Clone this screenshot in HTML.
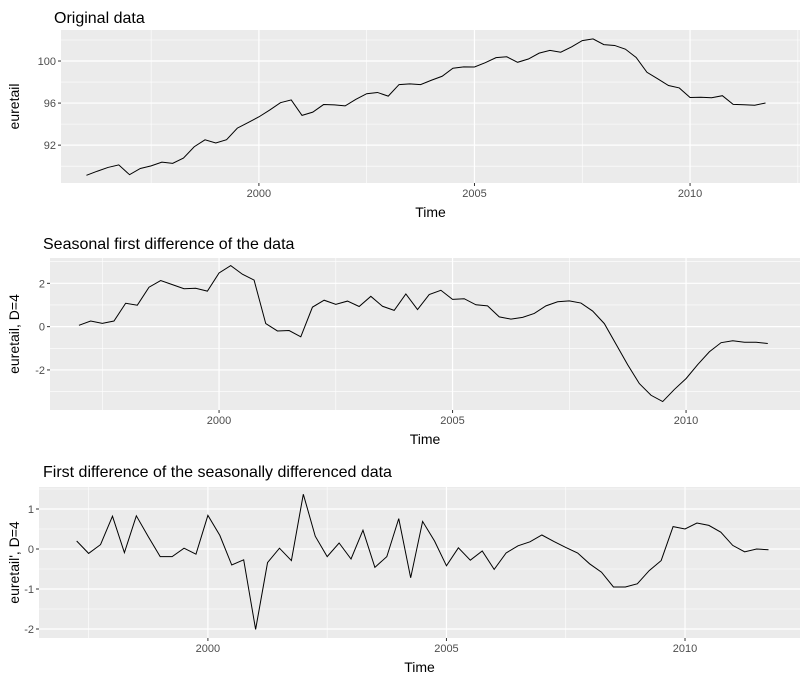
<!DOCTYPE html>
<html><head><meta charset="utf-8"><style>
html,body{margin:0;padding:0;background:#fff;}
svg{display:block;font-family:"Liberation Sans",Arial,sans-serif;}
</style></head><body>
<svg id="chart" width="809" height="683"></svg>
<script>
const years1 = [1996,2011.75];
const origValues = [89.13,89.52,89.88,90.12, 89.19,89.78,90.03,90.38, 90.27,90.77,91.85,92.51, 92.21,92.52,93.62,94.15, 94.69,95.34,96.04,96.30, 94.83,95.14,95.86,95.83, 95.73,96.36,96.89,97.01, 96.66,97.76,97.83,97.76, 98.17,98.55,99.31,99.44, 99.43,99.84,100.32,100.40, 99.88,100.19,100.75,101.01, 100.84,101.34,101.94,102.10, 101.56,101.48,101.13,100.34, 98.93,98.31,97.67,97.44, 96.53,96.56,96.51,96.70, 95.88,95.84,95.79,96.01];
const seasDiffValues = [0.06,0.26,0.15,0.26, 1.08,0.99,1.82,2.13, 1.94,1.75,1.77,1.64, 2.48,2.82,2.42,2.15, 0.14,-0.20,-0.18,-0.47, 0.90,1.22,1.03,1.18, 0.93,1.40,0.94,0.75, 1.51,0.79,1.48,1.68, 1.26,1.29,1.01,0.96, 0.45,0.35,0.43,0.61, 0.96,1.15,1.19,1.09, 0.72,0.14,-0.81,-1.76, -2.63,-3.17,-3.46,-2.90, -2.40,-1.75,-1.16,-0.74, -0.65,-0.72,-0.72,-0.78];
const dblDiffValues = [0.20,-0.11,0.11, 0.82,-0.09,0.83,0.31, -0.19,-0.19,0.02,-0.13, 0.84,0.34,-0.40,-0.27, -2.01,-0.34,0.02,-0.29, 1.37,0.32,-0.19,0.15, -0.25,0.47,-0.46,-0.19, 0.76,-0.72,0.69,0.20, -0.42,0.03,-0.28,-0.05, -0.51,-0.10,0.08,0.18, 0.35,0.19,0.04,-0.10, -0.37,-0.58,-0.95,-0.95, -0.87,-0.54,-0.29,0.56, 0.50,0.65,0.59,0.42, 0.09,-0.07,0.00,-0.02];
const startYears = [1996, 1997, 1997.25];
const xTickLabels = ["2000","2005","2010"];
const yTicks1 = [92,96,100];
const yTicks2 = [-2,0,2];
const yTicks3 = [-2,-1,0,1];
const titles = ["Original data","Seasonal first difference of the data","First difference of the seasonally differenced data"];
const yTitles = ["euretail","euretail, D=4","euretail', D=4"];

const NS="http://www.w3.org/2000/svg";
const svg=document.getElementById('chart');
function mk(tag,attrs,parent){const e=document.createElementNS(NS,tag);for(const k in attrs)e.setAttribute(k,attrs[k]);(parent||svg).appendChild(e);return e;}

const panels=[
 {vals:origValues,start:startYears[0],ticks:yTicks1,minor:[90,94,98,102],x0:61,x1:800,y0:30,y1:183,xd:[1995.41,2012.55],yd:[88.4,102.95],title:titles[0],ytitle:yTitles[0],titleX:54,titleY:23,yTitleX:19,name:'original'},
 {vals:seasDiffValues,start:startYears[1],ticks:yTicks2,minor:[-3,-1,1,3],x0:50,x1:800,y0:258,y1:410,xd:[1996.38,2012.44],yd:[-3.85,3.17],title:titles[1],ytitle:yTitles[1],titleX:43,titleY:249,yTitleX:19,name:'seasonal-diff'},
 {vals:dblDiffValues,start:startYears[2],ticks:yTicks3,minor:[-1.5,-0.5,0.5,1.5],x0:39,x1:800,y0:487,y1:638,xd:[1996.46,2012.41],yd:[-2.225,1.55],title:titles[2],ytitle:yTitles[2],titleX:43,titleY:477,yTitleX:19,name:'double-diff'}
];
const majorX=[2000,2005,2010], minorX=[1997.5,2002.5,2007.5,2012.5];
panels.forEach(p=>{
 const g=mk('g',{});
 
 
 const sx=v=>p.x0+(v-p.xd[0])/(p.xd[1]-p.xd[0])*(p.x1-p.x0);
 const sy=v=>p.y1-(v-p.yd[0])/(p.yd[1]-p.yd[0])*(p.y1-p.y0);
 const bg=mk('rect',{x:p.x0,y:p.y0,width:p.x1-p.x0,height:p.y1-p.y0,fill:'#ebebeb'},g);
 
 
 p.minor.forEach(v=>{const y=sy(v);if(y>=p.y0&&y<=p.y1)mk('line',{x1:p.x0,x2:p.x1,y1:y,y2:y,stroke:'#fff','stroke-width':0.6},g);});
 minorX.forEach(v=>{const x=sx(v);if(x>=p.x0&&x<=p.x1)mk('line',{x1:x,x2:x,y1:p.y0,y2:p.y1,stroke:'#fff','stroke-width':0.6},g);});
 p.ticks.forEach(v=>{const y=sy(v);mk('line',{x1:p.x0,x2:p.x1,y1:y,y2:y,stroke:'#fff','stroke-width':1.2},g);
   mk('line',{x1:p.x0-3,x2:p.x0,y1:y,y2:y,stroke:'#333','stroke-width':1},g);
   const t=mk('text',{x:p.x0-5,y:y+4,'text-anchor':'end','font-size':11,fill:'#4d4d4d'},g);t.textContent=v;
   
   });
 majorX.forEach((v,i)=>{const x=sx(v);mk('line',{x1:x,x2:x,y1:p.y0,y2:p.y1,stroke:'#fff','stroke-width':1.2},g);
   mk('line',{x1:x,x2:x,y1:p.y1,y2:p.y1+3,stroke:'#333','stroke-width':1},g);
   const t=mk('text',{x:x,y:p.y1+14,'text-anchor':'middle','font-size':11,fill:'#4d4d4d'},g);t.textContent=xTickLabels[i];
   
   });
 const pts=p.vals.map((v,i)=>sx(p.start+i*0.25).toFixed(2)+','+sy(v).toFixed(2)).join(' ');
 const line=mk('polyline',{points:pts,fill:'none',stroke:'#000','stroke-width':1},g);
 
 
 const tt=mk('text',{x:p.titleX,y:p.titleY,'font-size':16,fill:'#000'},g);tt.textContent=p.title;
 
 
 const xt=mk('text',{x:(p.x0+p.x1)/2,y:p.y1+34,'text-anchor':'middle','font-size':14,fill:'#000'},g);xt.textContent='Time';
 
 
 const cy=(p.y0+p.y1)/2;
 const yt=mk('text',{x:p.yTitleX,y:cy,'text-anchor':'middle','font-size':14,fill:'#000',transform:`rotate(-90 ${p.yTitleX} ${cy})`},g);yt.textContent=p.ytitle;
 
 
});
</script>
</body></html>
